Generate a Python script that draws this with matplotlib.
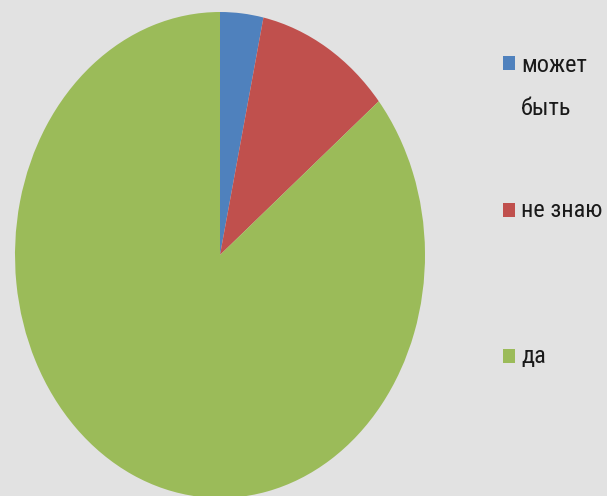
import matplotlib
matplotlib.use("Agg")
import matplotlib.pyplot as plt
from matplotlib.patches import Rectangle
from matplotlib import font_manager

categories = ["может\nбыть", "не знаю", "да"]
values = [3.4, 10.7, 85.9]
colors = ["#4F81BD", "#C0504D", "#9BBB59"]

W, H = 607, 496
fig = plt.figure(figsize=(W / 100, H / 100), dpi=100)
fig.patch.set_facecolor("#e2e2e2")

# pie axes (stretched vertically, as in the reference)
px0, px1 = 15, 425
py_top, py_bot = 12, 498
ax = fig.add_axes([px0 / W, (H - py_bot) / H, (px1 - px0) / W, (py_bot - py_top) / H])
ax.pie(values, colors=colors, startangle=90, counterclock=False,
       wedgeprops=dict(linewidth=0))
ax.set_aspect("auto")
ax.set_xlim(-1, 1)
ax.set_ylim(-1, 1)
ax.axis("off")

# pick a condensed font if one is installed
names = {f.name for f in font_manager.fontManager.ttflist}
cond = [f.name for f in font_manager.fontManager.ttflist
        if f.stretch in ("condensed", "semi-condensed", "extra-condensed") or
        "Narrow" in f.name or "Condensed" in f.name]
pref = ["Liberation Sans Narrow", "Roboto Condensed", "Open Sans Condensed",
        "DejaVu Sans Condensed", "Noto Sans Condensed"]
chosen = None
for p in pref:
    if p in names or p in cond:
        chosen = p
        break
stretch = "normal"
if chosen is None:
    chosen = "DejaVu Sans"
    stretch = "condensed"
font = [chosen, "DejaVu Sans"]

# fit font size so that "не знаю" is about 82 px wide
renderer = fig.canvas.get_renderer()
t = fig.text(0, 0, "не знаю", fontsize=18, family=font, fontstretch=stretch)
wpx = t.get_window_extent(renderer).width
t.remove()
fs = min(19.0, 18 * 82 / wpx)

# legend, drawn manually
sq_x, sq_w, sq_h = 503, 12, 14
sq_centers = [63, 210, 356]
baselines = [72, 217, 363]
for lab, col, cy, by in zip(categories, colors, sq_centers, baselines):
    fig.patches.append(Rectangle((sq_x / W, (H - cy - sq_h / 2) / H), sq_w / W, sq_h / H,
                                 transform=fig.transFigure, facecolor=col, edgecolor="none"))
    lines = lab.split("\n")
    for i, ln in enumerate(lines):
        fig.text(521 / W, (H - by - i * 43) / H, ln, fontsize=fs, family=font,
                 fontstretch=stretch, color="#1a1a1a", va="baseline", ha="left")

fig.savefig("out.png", dpi=100, facecolor=fig.get_facecolor())
